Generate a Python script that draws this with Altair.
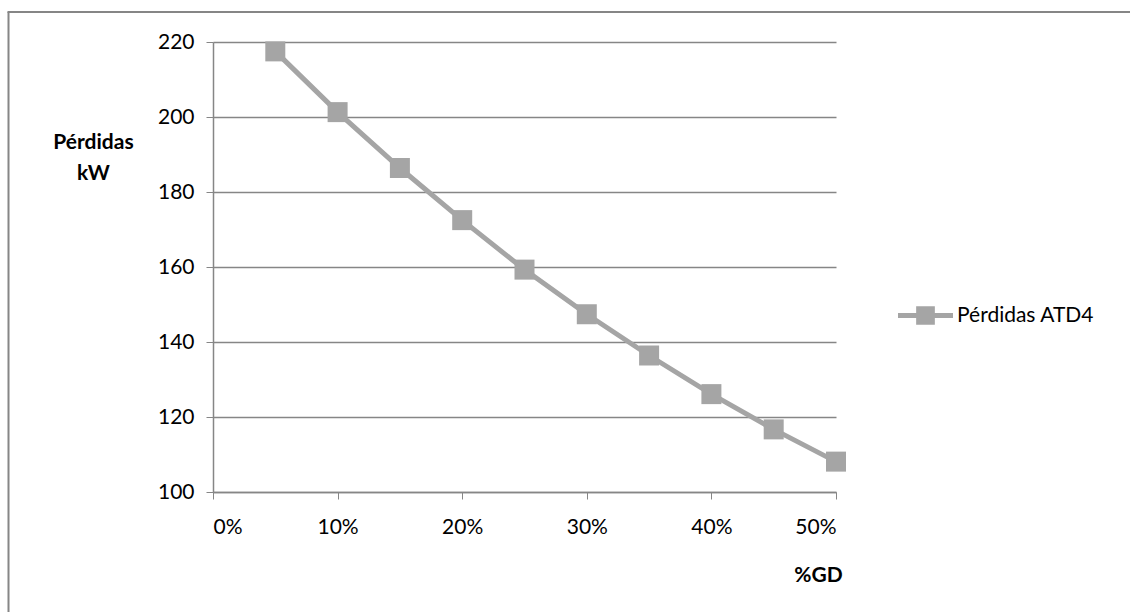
import altair as alt
import pandas as pd

gd = [0.05, 0.10, 0.15, 0.20, 0.25, 0.30, 0.35, 0.40, 0.45, 0.50]
perdidas = [217.5, 201.3, 186.4, 172.5, 159.3, 147.4, 136.4, 126.1, 116.7, 108.1]
serie = "Pérdidas ATD4"

df = pd.DataFrame({"gd": gd, "perdidas": perdidas, "serie": [serie] * len(gd)})

FONT = "Lato"
GREY = "#868686"
LINE = "#A5A5A5"
FS = 21

x_enc = alt.X(
    "gd:Q",
    scale=alt.Scale(domain=[0, 0.5], nice=False),
    axis=alt.Axis(
        format=".0%", values=[0, 0.1, 0.2, 0.3, 0.4, 0.5], grid=False,
        title="%GD", titleFontWeight="bold", titleFontSize=FS, titleFont=FONT,
        titleAngle=0, titleAlign="center", titleBaseline="middle",
        titleX=605, titleY=83,
        labelFont=FONT, labelFontSize=FS, labelColor="#000000", labelPadding=17,
        domainColor=GREY, tickColor=GREY, tickSize=7, domainWidth=1.5,
    ),
)
y_enc = alt.Y(
    "perdidas:Q",
    scale=alt.Scale(domain=[100, 220], nice=False),
    axis=alt.Axis(
        values=[100, 120, 140, 160, 180, 200, 220],
        title=["Pérdidas", "kW"], titleFontWeight="bold", titleFontSize=FS,
        titleFont=FONT, titleAngle=0, titleAlign="center", titleBaseline="top",
        titleX=-120, titleY=89, titleLineHeight=31,
        labelFont=FONT, labelFontSize=FS, labelColor="#000000", labelPadding=12,
        gridColor=GREY, gridWidth=1.5, domainColor=GREY, domainWidth=1.5,
        tickColor=GREY, tickSize=7,
    ),
)

line = alt.Chart(df).mark_line(color=LINE, strokeWidth=5).encode(x=x_enc, y=y_enc)

legend_path = ("M-1,-0.09L1,-0.09L1,0.09L-1,0.09Z "
               "M-0.34,-0.34L0.34,-0.34L0.34,0.34L-0.34,0.34Z")
points = alt.Chart(df).mark_point(shape="square", size=400, filled=True, opacity=1).encode(
    x="gd:Q",
    y="perdidas:Q",
    color=alt.Color(
        "serie:N",
        scale=alt.Scale(range=[LINE]),
        legend=alt.Legend(
            title=None, orient="none", legendX=685, legendY=246,
            symbolType=legend_path, symbolSize=3025, symbolStrokeWidth=0,
            symbolOpacity=1, labelFont=FONT, labelFontSize=FS,
            labelColor="#000000", labelOffset=4, padding=0,
        ),
    ),
)

frame = pd.DataFrame({"a": [0]})
left_border = alt.Chart(frame).mark_rule(color=GREY, strokeWidth=2).encode(
    x=alt.value(-204.5), y=alt.value(-30), y2=alt.value(620)
)
top_border = alt.Chart(frame).mark_rule(color=GREY, strokeWidth=2).encode(
    x=alt.value(-205.5), x2=alt.value(940), y=alt.value(-30)
)

chart = (
    alt.layer(left_border, top_border, line, points)
    .properties(
        width=623, height=450,
        autosize=alt.AutoSizeParams(type="none"),
        padding={"left": 213, "top": 42, "right": 294, "bottom": 120},
        background="#ffffff",
    )
    .configure_view(stroke=None)
)

chart.save("out.html", embed_options={"renderer": "svg", "actions": False})
